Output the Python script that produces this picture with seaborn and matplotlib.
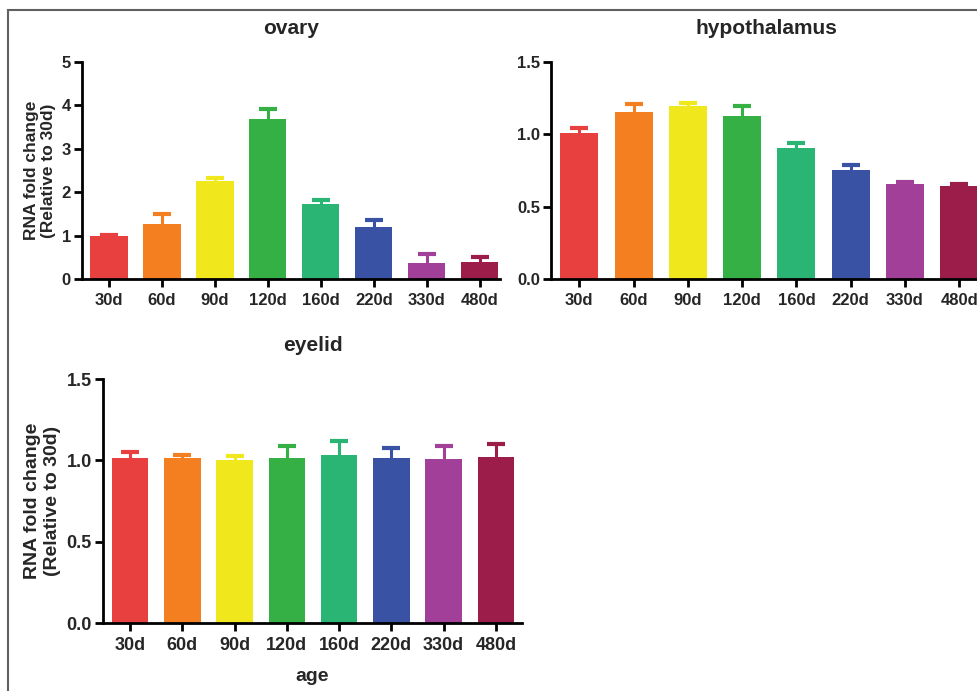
import numpy as np
import pandas as pd
import matplotlib.pyplot as plt
import seaborn as sns
from matplotlib.patches import Rectangle

# ages on the x axis
ages = ['30d', '60d', '90d', '120d', '160d', '220d', '330d', '480d']
bar_colors = ['#E8403F', '#F47F20', '#F0E81C', '#34B045',
              '#2BB575', '#3A52A3', '#A23F98', '#9C1C4A']

# mean fold change and upper error (SEM)
ovary_mean = [1.00, 1.26, 2.26, 3.68, 1.73, 1.20, 0.38, 0.39]
ovary_err = [0.02, 0.23, 0.06, 0.24, 0.08, 0.15, 0.19, 0.12]

hypo_mean = [1.007, 1.156, 1.195, 1.126, 0.906, 0.752, 0.660, 0.645]
hypo_err = [0.038, 0.054, 0.019, 0.067, 0.036, 0.038, 0.012, 0.012]

eyelid_mean = [1.016, 1.012, 1.002, 1.012, 1.035, 1.012, 1.010, 1.022]
eyelid_err = [0.033, 0.023, 0.023, 0.078, 0.085, 0.064, 0.080, 0.078]

sns.set_theme(style="ticks")
plt.rcParams['font.family'] = ['Liberation Sans', 'DejaVu Sans']
plt.rcParams['font.weight'] = 'bold'

fig = plt.figure(figsize=(9.78, 6.91), dpi=100)
fig.patch.set_facecolor('white')

# frame around the whole panel (cut by the image edges on right/bottom)
fig.patches.append(Rectangle((8 / 978, -0.1), 1.2, 1 - 9.5 / 691 + 0.1,
                             transform=fig.transFigure, fill=False,
                             edgecolor='#606060', lw=1.5, zorder=0))


def draw_panel(rect, means, errs, title, ymax, yticks, xlim, tick_fs,
               ylabel=None, xlabel=None, label_fs=12):
    ax = fig.add_axes(rect)
    df = pd.DataFrame({'age': ages, 'value': means})
    sns.barplot(data=df, x='age', y='value', hue='age', palette=bar_colors,
                order=ages, hue_order=ages, width=0.7, errorbar=None,
                legend=False, saturation=1, linewidth=0, ax=ax, zorder=2)
    # upper-only error bars, same colour as the bar
    for i, (m, e) in enumerate(zip(means, errs)):
        _, caps, _ = ax.errorbar(i, m, yerr=[[0], [e]], fmt='none',
                                 ecolor=bar_colors[i], elinewidth=2.2,
                                 capsize=6.5, capthick=3, zorder=1)
        caps[0].set_visible(False)  # no cap at the bar top
    ax.set_xlim(*xlim)
    ax.set_ylim(0, ymax)
    ax.set_yticks(yticks)
    ax.set_yticklabels([f'{t:g}' if ymax > 2 else f'{t:.1f}' for t in yticks])
    sns.despine(ax=ax)
    for side in ['left', 'bottom']:
        ax.spines[side].set_linewidth(2)
        ax.spines[side].set_color('black')
    ax.tick_params(axis='both', width=2, length=6, color='black',
                   labelsize=tick_fs)
    ax.tick_params(axis='y', pad=2)
    ax.tick_params(axis='x', pad=4)
    for lab in ax.get_xticklabels() + ax.get_yticklabels():
        lab.set_fontweight('bold')
    ax.set_title(title, fontsize=15, fontweight='bold', pad=20)
    ax.set_xlabel(xlabel if xlabel else '', fontsize=14, fontweight='bold',
                  labelpad=10)
    ax.set_ylabel(ylabel if ylabel else '', fontsize=label_fs,
                  fontweight='bold', labelpad=4)
    return ax


ylab = 'RNA fold change\n(Relative to 30d)'

draw_panel([82 / 978, 1 - 279 / 691, 418 / 978, 217 / 691],
           ovary_mean, ovary_err, 'ovary', 5, [0, 1, 2, 3, 4, 5],
           (-0.51, 7.38), 12, ylabel=ylab, label_fs=12.5)

draw_panel([551 / 978, 1 - 279 / 691, 430 / 978, 217 / 691],
           hypo_mean, hypo_err, 'hypothalamus', 1.5, [0, 0.5, 1.0, 1.5],
           (-0.52, 7.4), 12)

draw_panel([103 / 978, 1 - 623 / 691, 419 / 978, 244 / 691],
           eyelid_mean, eyelid_err, 'eyelid', 1.5, [0, 0.5, 1.0, 1.5],
           (-0.52, 7.5), 13, ylabel=ylab, xlabel='age', label_fs=14)

fig.savefig('out.png', dpi=100)
